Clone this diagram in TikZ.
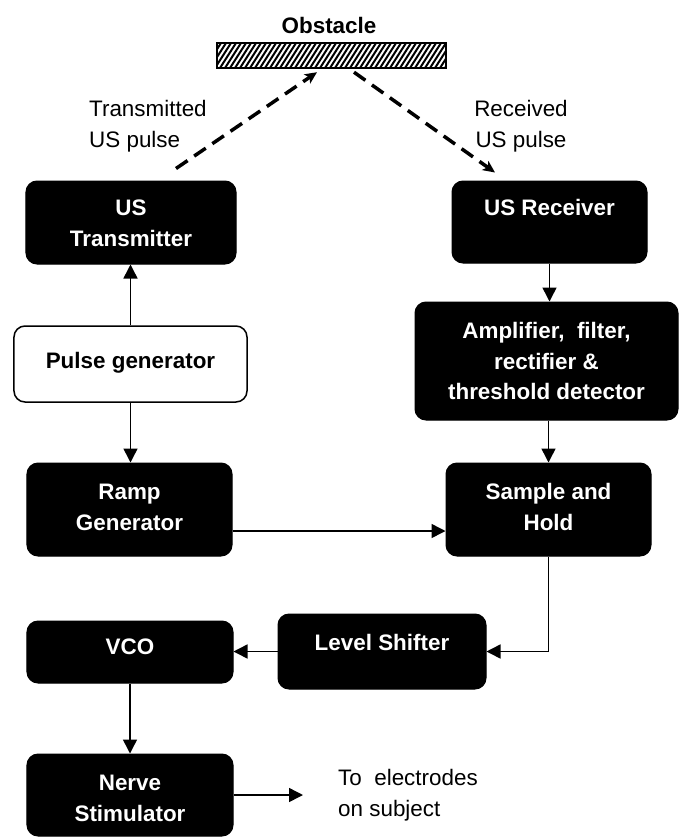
\documentclass[tikz,border=0pt]{standalone}
\usepackage{fontspec}
\setmainfont{Liberation Sans}
\usetikzlibrary{arrows.meta}
\newcommand\diagfont{\fontsize{22.5}{31}\selectfont}
\begin{document}
\begin{tikzpicture}[x=1bp,y=-1bp,
  blk/.style={draw=black,fill=black,rounded corners=11bp,line width=1bp,inner sep=0pt},
  wbox/.style={draw=black,fill=white,rounded corners=11bp,line width=1.5bp,inner sep=0pt},
  btxt/.style={text=white,font=\bfseries\diagfont,align=center,inner sep=0pt},
  ktxt/.style={text=black,font=\bfseries\diagfont,align=center,inner sep=0pt},
  ptxt/.style={text=black,font=\diagfont,inner sep=0pt},
  conn/.style={line width=1.5bp,-{Triangle[length=14bp,width=14bp]}},
  wave/.style={line width=3.5bp,dash pattern=on 14bp off 8bp,
    -{Stealth[length=12bp,width=11bp,inset=3bp]}}
]
\useasboundingbox (0,0) rectangle (679,838);

% obstacle with hatching
\node[font=\bfseries\diagfont,inner sep=0pt] (obs-t) at (329,25) {Obstacle};
\node[minimum width=229bp,minimum height=25bp,inner sep=0pt] (obs) at (331.5,55.5) {};
\begin{scope}
  \clip (obs.south west) rectangle (obs.north east);
  \foreach \i in {195,200,...,450} \draw[line width=2bp] (\i,68) -- ++(16,-25);
\end{scope}
\draw[line width=1.5bp] (obs.south west) rectangle (obs.north east);

% block boxes
\node[blk,minimum width=210bp,minimum height=83bp] (tx) at (131,222.5) {};
\node[wbox,minimum width=233bp,minimum height=76bp] (pg) at (130.5,364) {};
\node[blk,minimum width=195bp,minimum height=82bp] (rx) at (549.5,222) {};
\node[blk,minimum width=263bp,minimum height=118bp] (amp) at (546.5,361) {};
\node[blk,minimum width=205bp,minimum height=93bp] (ramp) at (129.5,509.5) {};
\node[blk,minimum width=205bp,minimum height=93bp] (sh) at (548.5,509.5) {};
\node[blk,minimum width=208bp,minimum height=75bp] (ls) at (382,651.5) {};
\node[blk,minimum width=206bp,minimum height=62bp] (vco) at (130,652) {};
\node[blk,minimum width=206bp,minimum height=82bp] (ns) at (130,795) {};

% box texts
\node[btxt] (tx-t) at (131,223.5) {US\\Transmitter};
\node[ktxt] (pg-t) at (130.5,363) {Pulse generator};
\node[btxt] (rx-t) at (549.5,207) {US Receiver};
\node[btxt] (amp-t) at (546.5,361) {Amplifier,\ \ filter,\\rectifier \&\\threshold detector};
\node[btxt] (ramp-t) at (129.5,507) {Ramp\\Generator};
\node[btxt] (sh-t) at (548.5,507) {Sample and\\Hold};
\node[btxt] (ls-t) at (382,642) {Level Shifter};
\node[btxt] (vco-t) at (130,647) {VCO};
\node[btxt] (ns-t) at (130,798) {Nerve\\Stimulator};

% pulse labels
\begin{scope}
  \clip (0,0) rectangle (679,151);
  \node[ptxt,align=left,anchor=west] (txl) at (89,126.5) {Transmitted\\US pulse};
  \node[ptxt,align=center] (rxl) at (521,126.5) {Received\\US pulse};
\end{scope}
\node[ptxt,align=left,anchor=west] (el) at (338,795) {To\ \ electrodes\\on subject};

% ultrasound paths
\draw[wave] ([shift={(45,-12)}]tx.north) -- ([shift={(-14.5,4)}]obs.south);
\draw[wave] ([shift={(22.5,4)}]obs.south) -- ([shift={(-54.5,-8)}]rx.north);

% signal connectors
\draw[conn] (pg.north) -- (pg.north |- tx.south);
\draw[conn] (pg.south) -- (pg.south |- ramp.north);
\draw[conn] (rx.south) -- (rx.south |- amp.north);
\draw[conn] (amp.south -| sh.north) -- (sh.north);
\draw[conn] ([yshift=-21.5bp]ramp.east) -- ([yshift=-21.5bp]ramp.east -| sh.west);
\draw[conn] (sh.south) |- (ls.east);
\draw[conn] (ls.west) -- (ls.west -| vco.east);
\draw[conn] (vco.south) -- (ns.north);
\coordinate (out) at (303,795);
\draw[conn] (ns.east) -- (out);
\end{tikzpicture}
\end{document}
